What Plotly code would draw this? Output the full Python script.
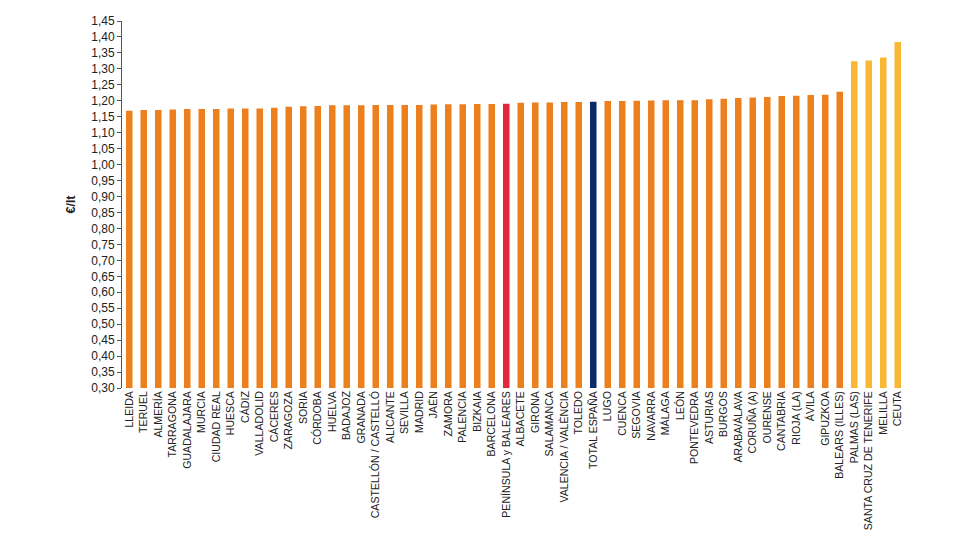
import plotly.graph_objects as go

provinces = ["LLEIDA", "TERUEL", "ALMERÍA", "TARRAGONA", "GUADALAJARA", "MURCIA", "CIUDAD REAL",
             "HUESCA", "CÁDIZ", "VALLADOLID", "CÁCERES", "ZARAGOZA", "SORIA", "CÓRDOBA", "HUELVA",
             "BADAJOZ", "GRANADA", "CASTELLÓN / CASTELLÓ", "ALICANTE", "SEVILLA", "MADRID", "JAÉN",
             "ZAMORA", "PALENCIA", "BIZKAIA", "BARCELONA", "PENÍNSULA y BALEARES", "ALBACETE",
             "GIRONA", "SALAMANCA", "VALENCIA / VALÈNCIA", "TOLEDO", "TOTAL ESPAÑA", "LUGO",
             "CUENCA", "SEGOVIA", "NAVARRA", "MÁLAGA", "LEÓN", "PONTEVEDRA", "ASTURIAS", "BURGOS",
             "ARABA/ÁLAVA", "CORUÑA (A)", "OURENSE", "CANTABRIA", "RIOJA (LA)", "ÁVILA", "GIPUZKOA",
             "BALEARS (ILLES)", "PALMAS (LAS)", "SANTA CRUZ DE TENERIFE", "MELILLA", "CEUTA"]

prices = [1.169, 1.171, 1.171, 1.173, 1.174, 1.174, 1.174,
          1.176, 1.176, 1.176, 1.178, 1.181, 1.183, 1.184, 1.186,
          1.186, 1.186, 1.187, 1.187, 1.187, 1.187, 1.188,
          1.189, 1.189, 1.190, 1.190, 1.191, 1.194,
          1.195, 1.195, 1.196, 1.196, 1.197, 1.199,
          1.199, 1.200, 1.201, 1.202, 1.202, 1.202, 1.205, 1.206,
          1.209, 1.210, 1.212, 1.215, 1.216, 1.218, 1.219,
          1.228, 1.324, 1.326, 1.336, 1.384]

group = ["prov"] * 26 + ["pen"] + ["prov"] * 5 + ["total"] + ["prov"] * 17 + ["special"] * 4

palette = {"prov": "#EC7F1E", "pen": "#E3263A", "total": "#0C2A66", "special": "#F8B833"}
colors = [palette[g] for g in group]

y_ticks = [round(0.30 + 0.05 * i, 2) for i in range(24)]

fig = go.Figure(go.Bar(
    x=provinces, y=prices, marker=dict(color=colors, line=dict(width=0)),
))

fig.update_layout(
    width=980, height=550,
    margin=dict(l=122, r=75, t=21, b=162),
    paper_bgcolor="white", plot_bgcolor="white",
    separators=",.",
    bargap=0.55,
    showlegend=False,
    font=dict(family="Liberation Sans, Arial, sans-serif", color="#222"),
)
fig.update_xaxes(
    tickangle=-90, tickfont=dict(size=10.6), showline=False, showgrid=False,
    ticks="", fixedrange=True,
)
fig.update_yaxes(
    range=[0.30, 1.45], tickvals=y_ticks, tickformat=".2f",
    showline=True, linecolor="#555", linewidth=1, ticks="outside", ticklen=4,
    tickcolor="#555", showgrid=False, zeroline=False, tickfont=dict(size=12),
    title=dict(text="<b>€/lt</b>", font=dict(size=12.5), standoff=12),
)

fig.write_html("out.html")
